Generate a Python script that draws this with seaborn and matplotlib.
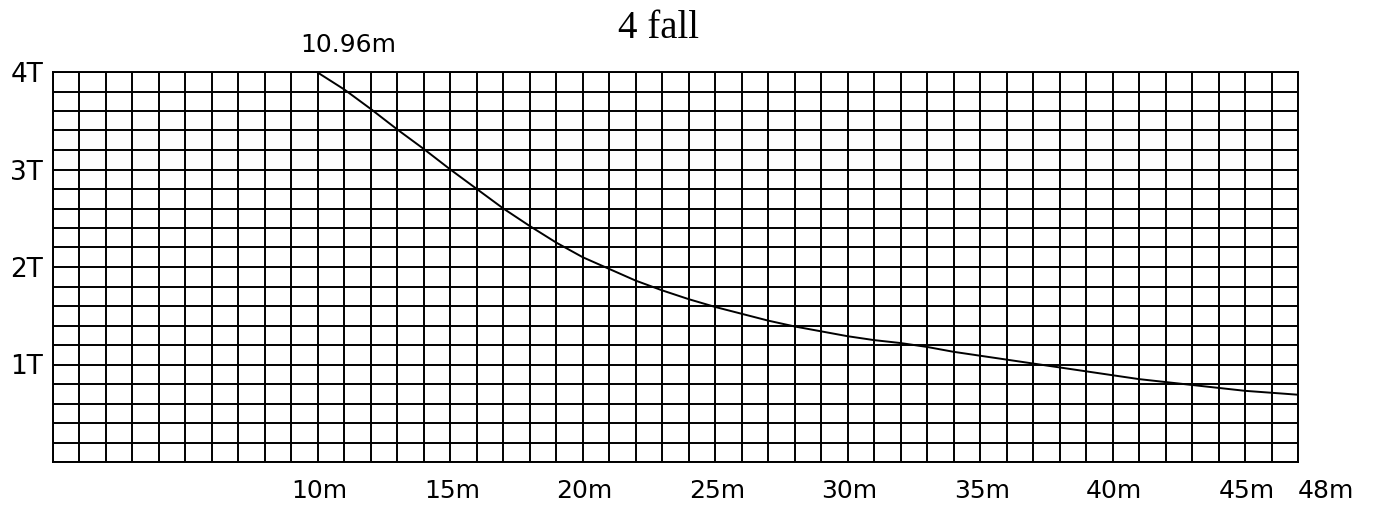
import numpy as np
import matplotlib
matplotlib.use('Agg')
import matplotlib.pyplot as plt
import seaborn as sns

# load chart, 4 fall: radius (m) vs load (T)
radius = [10.96, 12, 13, 14, 15, 16, 17, 18, 19, 20, 21, 22, 23, 24, 25, 26, 27, 28,
          29, 30, 31, 32, 33, 34, 35, 36, 37, 38, 39, 40, 42, 44, 46, 48]
load = [4.0, 3.82, 3.62, 3.41, 3.21, 3.0, 2.80, 2.60, 2.42, 2.25, 2.10, 1.98, 1.86,
        1.76, 1.67, 1.59, 1.52, 1.45, 1.39, 1.34, 1.29, 1.25, 1.22, 1.18, 1.13, 1.09,
        1.05, 1.01, 0.97, 0.93, 0.85, 0.79, 0.73, 0.69]

x_ticks = [10, 15, 20, 25, 30, 35, 40, 45, 48]
x_labels = ['10m', '15m', '20m', '25m', '30m', '35m', '40m', '45m', '48m']
y_ticks = [1, 2, 3, 4]
y_labels = ['1T', '2T', '3T', '4T']

sns.set_style('white')
plt.rcParams['font.family'] = ['DejaVu Sans']
plt.rcParams['text.color'] = 'black'

fig = plt.figure(figsize=(13.79, 5.13), dpi=100)
ax = fig.add_axes([53 / 1379, 1 - 462 / 513, (1298 - 53) / 1379, (462 - 72) / 513])

sns.lineplot(x=radius, y=load, color='black', linewidth=1.4, ax=ax)

ax.set_xlim(1, 48)
ax.set_ylim(0, 4)
ax.set_xticks(np.arange(1, 49), minor=True)
ax.set_yticks(np.arange(0, 4.01, 0.2), minor=True)
ax.set_xticks(x_ticks)
ax.set_xticklabels(x_labels, ha='left')
ax.set_yticks(y_ticks)
ax.set_yticklabels(y_labels)
ax.grid(which='both', color='black', linewidth=1.4)
ax.tick_params(which='both', length=0, colors='black')
ax.tick_params(axis='x', pad=12, labelsize=18)
ax.tick_params(axis='y', pad=7, labelsize=19)
for s in ax.spines.values():
    s.set_visible(True)
    s.set_color('black')
    s.set_linewidth(1.4)

ax.annotate('10.96m', xy=(radius[0], load[0]), xytext=(-12, 11),
            textcoords='offset points', ha='left', va='bottom', fontsize=18,
            color='black')
fig.text(658 / 1379, 1 - 38 / 513, '4 fall', ha='center', va='baseline',
         family='Liberation Serif', fontsize=28, color='black')

fig.savefig('out.png', dpi=100)
